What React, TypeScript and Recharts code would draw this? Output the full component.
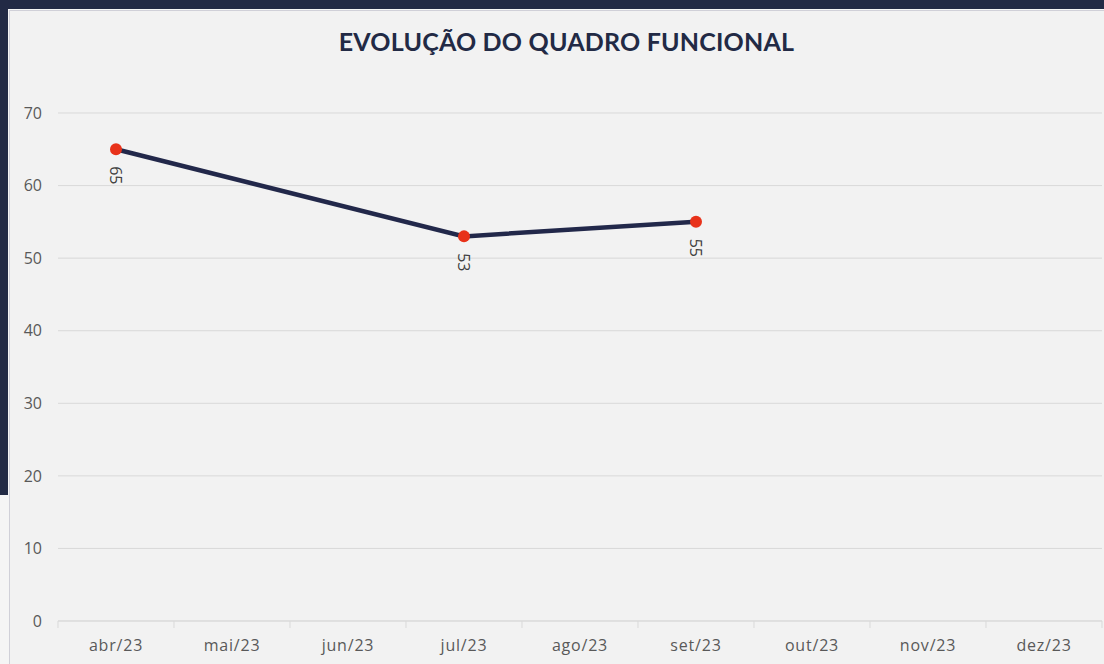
import { CartesianGrid, LabelList, Line, LineChart, XAxis, YAxis } from "recharts";

// Monthly headcount, Apr–Dec 2023. Months without a figure yet are null and the
// line just bridges over them (Excel-style "connect data points").

const MONTHS = ["abr/23", "mai/23", "jun/23", "jul/23", "ago/23", "set/23", "out/23", "nov/23", "dez/23"];
const HEADCOUNT: (number | null)[] = [65, null, null, 53, null, 55, null, null, null];
const Y_TICKS = [0, 10, 20, 30, 40, 50, 60, 70];

const WIDTH = 1104;
const HEIGHT = 664;
const MARGIN = { top: 113, right: 2, bottom: 0, left: 0 };
const Y_AXIS_WIDTH = 58;
const X_AXIS_HEIGHT = 43;
const PLOT_WIDTH = WIDTH - MARGIN.left - MARGIN.right - Y_AXIS_WIDTH;
const BAND = PLOT_WIDTH / MONTHS.length;
const AXIS_Y = HEIGHT - MARGIN.bottom - X_AXIS_HEIGHT;

const NAVY = "#222a45";
const GRID = "#d9d9d9";
const TEXT = "#595959";
const FONT = "'Open Sans', 'Noto Sans', sans-serif";

const data = MONTHS.map((month, i) => ({ month, value: HEADCOUNT[i] }));

// category label in the middle of the band, tick marks on the band edges
function MonthTick(props: any) {
  const { x, payload, index } = props;
  const left = x - BAND / 2;
  return (
    <g>
      <line x1={left} x2={left} y1={AXIS_Y} y2={AXIS_Y + 7} stroke={GRID} />
      {index === MONTHS.length - 1 && (
        <line x1={x + BAND / 2} x2={x + BAND / 2} y1={AXIS_Y} y2={AXIS_Y + 7} stroke={GRID} />
      )}
      <text
        x={x}
        y={AXIS_Y + 24}
        textAnchor="middle"
        dominantBaseline="central"
        fill={TEXT}
        fontSize={16}
        letterSpacing={0.8}
        fontFamily={FONT}
      >
        {payload.value}
      </text>
    </g>
  );
}

function RotatedLabel(props: any) {
  const { x, y, value } = props;
  if (value == null) return null;
  const cy = y + 26;
  return (
    <text
      x={x}
      y={cy}
      transform={`rotate(90, ${x}, ${cy})`}
      textAnchor="middle"
      dominantBaseline="central"
      fill="#404040"
      fontSize={16}
      fontFamily={FONT}
    >
      {value}
    </text>
  );
}

export default function App() {
  return (
    <div style={{ position: "fixed", left: 0, top: 0, width: WIDTH, height: HEIGHT, background: "#f5f5f5", overflow: "hidden" }}>
      <div style={{ position: "absolute", left: 0, top: 0, width: WIDTH, height: 9, background: NAVY }} />
      <div style={{ position: "absolute", left: 0, top: 0, width: 8, height: 495, background: NAVY }} />
      <div
        style={{
          position: "absolute",
          left: 9,
          top: 10,
          right: 0,
          bottom: 0,
          background: "#f2f2f2",
          borderTop: "1px solid #d0d0d8",
          borderLeft: "1px solid #d0d0d8",
        }}
      />
      <div
        style={{
          position: "absolute",
          left: 19,
          top: 26,
          width: WIDTH - 9,
          textAlign: "center",
          color: NAVY,
          fontFamily: "Lato, sans-serif",
          fontWeight: 700,
          fontSize: 25,
          letterSpacing: 0.2,
        }}
      >
        EVOLUÇÃO DO QUADRO FUNCIONAL
      </div>
      <div style={{ position: "absolute", left: 0, top: 0 }}>
        <LineChart width={WIDTH} height={HEIGHT} data={data} margin={MARGIN}>
          <CartesianGrid vertical={false} stroke={GRID} />
          <XAxis
            dataKey="month"
            scale="band"
            interval={0}
            height={X_AXIS_HEIGHT}
            axisLine={{ stroke: GRID }}
            tickLine={false}
            tick={<MonthTick />}
          />
          <YAxis
            domain={[0, 70]}
            ticks={Y_TICKS}
            width={Y_AXIS_WIDTH}
            axisLine={false}
            tickLine={false}
            tickMargin={10}
            tick={{ fill: TEXT, fontSize: 16, fontFamily: FONT }}
          />
          <Line
            dataKey="value"
            connectNulls
            stroke="#22284a"
            strokeWidth={4.5}
            dot={{ r: 6, fill: "#e8321a", stroke: "none" }}
            isAnimationActive={false}
          >
            <LabelList dataKey="value" content={<RotatedLabel />} />
          </Line>
        </LineChart>
      </div>
    </div>
  );
}
